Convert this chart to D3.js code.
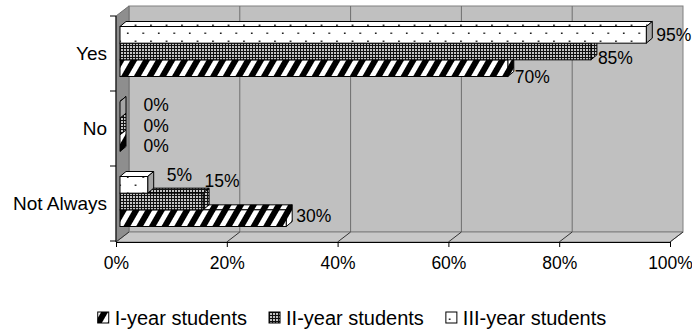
<!DOCTYPE html>
<html>
<head>
<meta charset="utf-8">
<script src="https://cdn.jsdelivr.net/npm/d3@7"></script>
<style>
  html, body { margin: 0; padding: 0; background: #ffffff; }
  svg { display: block; font-family: "Liberation Sans", Arial, sans-serif; }
</style>
</head>
<body>
<script>
// Survey answers per student year (percent)
const categories = ["Yes", "No", "Not Always"];
const seriesNames = ["I-year students", "II-year students", "III-year students"];
const firstYear = [70, 0, 30];
const secondYear = [85, 0, 15];
const thirdYear = [95, 0, 5];
const tickValues = [0, 20, 40, 60, 80, 100];

const seriesValues = [firstYear, secondYear, thirdYear];

const W = 692, H = 336;
const FONT = 17.5;          // ticks and value labels
const CAT_FONT = 19;        // category labels
const LEGEND_FONT = 20;     // legend entries

// 3-D box geometry
const WALL_DX = 13, WALL_DY = -10;     // depth of the plot box
const BAR_DX = 6, BAR_DY = -5;         // depth of each bar
const BAR_OX = 4, BAR_OY = -2;         // bars sit midway in the box depth

const svg = d3.select("body").append("svg")
  .attr("width", W).attr("height", H);

const x = d3.scaleLinear().domain([0, 100]).range([116, 670]);
const y = d3.scaleBand().domain(categories).range([16, 241])
  .paddingInner(1 / 3).paddingOuter(1 / 6);
// within a group: III-year on top, I-year at the bottom
const yInner = d3.scaleBand().domain([2, 1, 0]).range([0, y.bandwidth()]);

const frontTop = 16, frontBottom = 242;

// ---- fill patterns ----
const defs = svg.append("defs");

const stripes = defs.append("pattern").attr("id", "pat-stripes")
  .attr("patternUnits", "userSpaceOnUse").attr("width", 11).attr("height", 11)
  .attr("patternTransform", "rotate(30)");
stripes.append("rect").attr("width", 11).attr("height", 11).attr("fill", "#fff");
stripes.append("rect").attr("width", 6).attr("height", 11).attr("fill", "#000");

const checker = defs.append("pattern").attr("id", "pat-checker")
  .attr("patternUnits", "userSpaceOnUse").attr("width", 3).attr("height", 3);
checker.append("rect").attr("width", 3).attr("height", 3).attr("fill", "#111");
checker.append("rect").attr("x", 1).attr("y", 1).attr("width", 2).attr("height", 2).attr("fill", "#c4c4c4");

const dots = defs.append("pattern").attr("id", "pat-dots")
  .attr("patternUnits", "userSpaceOnUse").attr("width", 15.5).attr("height", 16);
dots.append("rect").attr("width", 15.5).attr("height", 16).attr("fill", "#fff");
dots.append("rect").attr("x", 3).attr("y", 0.5).attr("width", 1.5).attr("height", 1.5).attr("fill", "#000");
dots.append("rect").attr("x", 10.75).attr("y", 8.5).attr("width", 1.5).attr("height", 1.5).attr("fill", "#000");

const fills = ["url(#pat-stripes)", "url(#pat-checker)", "url(#pat-dots)"];
const sideFills = ["url(#pat-stripes)", "url(#pat-checker)", "#a6a6a6"];

// ---- walls ----
const x0 = x(0), x1 = x(100);
const walls = svg.append("g");

// back wall
walls.append("rect")
  .attr("x", x0 + WALL_DX).attr("y", frontTop + WALL_DY)
  .attr("width", x1 - x0).attr("height", frontBottom - frontTop)
  .attr("fill", "#c0c0c0").attr("stroke", "#808080");

// left wall
walls.append("polygon")
  .attr("points", [[x0, frontTop], [x0 + WALL_DX, frontTop + WALL_DY],
                   [x0 + WALL_DX, frontBottom + WALL_DY], [x0, frontBottom]].join(" "))
  .attr("fill", "#8e8e8e").attr("stroke", "#6e6e6e");

// floor
walls.append("polygon")
  .attr("points", [[x0, frontBottom], [x0 + WALL_DX, frontBottom + WALL_DY],
                   [x1 + WALL_DX, frontBottom + WALL_DY], [x1, frontBottom]].join(" "))
  .attr("fill", "#c8c8c8").attr("stroke", "#808080");

// gridlines on the back wall and their traces across the floor
const inner = tickValues.filter(t => t > 0 && t < 100);
walls.selectAll("line.grid").data(inner).join("line").attr("class", "grid")
  .attr("x1", d => x(d) + WALL_DX).attr("x2", d => x(d) + WALL_DX)
  .attr("y1", frontTop + WALL_DY).attr("y2", frontBottom + WALL_DY)
  .attr("stroke", "#6e6e6e");
walls.selectAll("line.floor").data(tickValues).join("line").attr("class", "floor")
  .attr("x1", d => x(d)).attr("x2", d => x(d) + WALL_DX)
  .attr("y1", frontBottom).attr("y2", frontBottom + WALL_DY)
  .attr("stroke", "#333");

// ---- bars ----
const bars = svg.append("g");
categories.forEach((cat, ci) => {
  [0, 1, 2].forEach(si => {
    const v = seriesValues[si][ci];
    const bx0 = x(0) + BAR_OX, bx1 = x(v) + BAR_OX;
    const by = y(cat) + yInner(si) + BAR_OY;
    const bh = yInner.bandwidth();
    const g = bars.append("g").attr("stroke", "#000").attr("stroke-width", 1);
    // top face
    g.append("polygon")
      .attr("points", [[bx0, by], [bx0 + BAR_DX, by + BAR_DY], [bx1 + BAR_DX, by + BAR_DY], [bx1, by]].join(" "))
      .attr("fill", fills[si]);
    // end face
    g.append("polygon")
      .attr("points", [[bx1, by], [bx1 + BAR_DX, by + BAR_DY], [bx1 + BAR_DX, by + bh + BAR_DY], [bx1, by + bh]].join(" "))
      .attr("fill", sideFills[si]);
    // front face
    g.append("rect")
      .attr("x", bx0).attr("y", by).attr("width", bx1 - bx0).attr("height", bh)
      .attr("fill", fills[si]);
  });
});

// ---- axes ----
const xAxis = d3.axisBottom(x).tickValues(tickValues).tickFormat(d => d + "%")
  .tickSize(5).tickSizeOuter(0).tickPadding(10);
const gx = svg.append("g").attr("transform", `translate(0,${frontBottom})`).call(xAxis);
gx.selectAll("text").attr("font-size", FONT).attr("fill", "#000").attr("font-family", null);
gx.selectAll("line, path").attr("stroke", "#000");

const yAxis = d3.axisLeft(y).tickSize(0).tickSizeOuter(0).tickPadding(9);
const gy = svg.append("g").attr("transform", `translate(${x0},0)`).call(yAxis);
gy.select("path.domain").attr("d", `M0,${frontTop}V${frontBottom}`).attr("stroke", "#000");
gy.selectAll("text").attr("font-size", CAT_FONT).attr("fill", "#000").attr("font-family", null);

// category boundary ticks
const bounds = d3.range(categories.length + 1).map(i => y.range()[0] + i * y.step());
svg.append("g").selectAll("line").data(bounds).join("line")
  .attr("x1", x0 - 6).attr("x2", x0).attr("y1", d => d).attr("y2", d => d)
  .attr("stroke", "#000");

// ---- value labels (offsets from the bar tip, per category / series) ----
const labelNudge = [
  [[1, 8.5], [1, 6.5], [4, 0]],              // Yes
  [[17.5, 2.8], [17.5, -0.5], [17.5, -4.8]], // No
  [[4, -2.5], [-4.5, -21], [13, -10]]        // Not Always
];
const labels = svg.append("g").attr("font-size", FONT).attr("fill", "#000");
categories.forEach((cat, ci) => {
  [0, 1, 2].forEach(si => {
    const v = seriesValues[si][ci];
    const tipX = x(v) + BAR_OX + BAR_DX;
    const midY = y(cat) + yInner(si) + BAR_OY + yInner.bandwidth() / 2;
    const [ndx, ndy] = labelNudge[ci][si];
    labels.append("text")
      .attr("x", tipX + ndx).attr("y", midY + ndy).attr("dy", "0.35em")
      .text(v + "%");
  });
});

// ---- legend ----
const legend = svg.append("g").attr("font-size", LEGEND_FONT);
const items = legend.selectAll("g").data(seriesNames).join("g");
items.append("rect").attr("x", 0).attr("y", -6).attr("width", 11).attr("height", 11)
  .attr("fill", (d, i) => fills[i]).attr("stroke", "#000");
items.append("text").attr("x", 17).attr("y", 0).attr("dy", "0.35em").text(d => d);
let cursor = 0;
items.each(function () {
  const g = d3.select(this);
  g.attr("transform", `translate(${cursor},0)`);
  cursor += 17 + g.select("text").node().getComputedTextLength() + 22;
});
const legendWidth = cursor - 22;
legend.attr("transform", `translate(${352 - legendWidth / 2},318)`);
</script>
</body>
</html>
